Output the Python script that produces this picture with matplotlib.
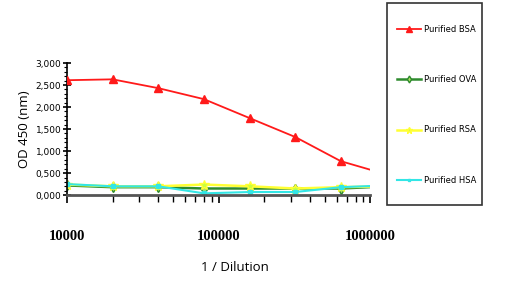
import matplotlib.pyplot as plt
import numpy as np
from matplotlib.ticker import FixedLocator, NullFormatter
from matplotlib.patches import Rectangle

# dilution factors (1 / dilution)
dilution = [10000, 20000, 40000, 80000, 160000, 320000, 640000, 1280000]
bsa = [2.61, 2.63, 2.43, 2.18, 1.75, 1.32, 0.77, 0.47]
ova = [0.22, 0.18, 0.18, 0.15, 0.15, 0.15, 0.15, 0.20]
rsa = [0.24, 0.20, 0.20, 0.24, 0.20, 0.15, 0.18, 0.20]
hsa = [0.25, 0.20, 0.20, 0.04, 0.07, 0.07, 0.18, 0.22]

y_ticks = [0, 0.5, 1.0, 1.5, 2.0, 2.5, 3.0]
y_labels = ["0,000", "0,500", "1,000", "1,500", "2,000", "2,500", "3,000"]
x_ticks = [10000, 100000, 1000000]
x_labels = ["10000", "100000", "1000000"]

fig = plt.figure(figsize=(5.23, 2.84), dpi=100)
ax = fig.add_axes([0.128, 0.313, 0.58, 0.465])

ax.plot(dilution, bsa, color="#ff1a1a", lw=1.3, marker="^", ms=6, label="Purified BSA", zorder=5)
ax.plot(dilution, ova, color="#2e8b2e", lw=1.8, marker="d", ms=5, mfc="#b0e060", label="Purified OVA")
ax.plot(dilution, rsa, color="#ffff33", lw=1.8, marker="*", ms=7, mfc="#c8ff40", label="Purified RSA")
ax.plot(dilution, hsa, color="#33e6e6", lw=1.5, marker="s", ms=3, label="Purified HSA")

ax.set_xscale("log")
ax.set_xlim(10000, 1000000)
ax.set_ylim(0, 3.0)

ax.spines["top"].set_visible(False)
ax.spines["right"].set_visible(False)
ax.spines["bottom"].set_color("#555555")
ax.spines["bottom"].set_linewidth(2)
ax.spines["left"].set_linewidth(1.2)

ax.set_yticks(y_ticks)
ax.set_yticklabels(y_labels, fontsize=6.5)
ax.yaxis.set_minor_locator(FixedLocator(np.arange(0, 3.0, 0.1)))
ax.tick_params(axis="y", which="major", direction="inout", length=6, width=1.2, pad=1)
ax.tick_params(axis="y", which="minor", direction="out", length=2.5, width=0.8)

ax.xaxis.set_major_locator(FixedLocator(x_ticks))
ax.set_xticklabels(x_labels, family="Liberation Serif", fontweight="bold", fontsize=10.5)
ax.xaxis.set_minor_formatter(NullFormatter())
ax.tick_params(axis="x", which="major", direction="out", length=6, width=1.2, pad=19)
ax.tick_params(axis="x", which="minor", direction="out", length=5, width=1)

ax.set_ylabel("OD 450 (nm)", family="Open Sans", fontsize=9.5, labelpad=3)
fig.text(0.45, 0.045, "1 / Dilution", family="Open Sans", fontsize=9.5, ha="center")

# legend box drawn separately, entries placed inside
fig.patches.append(Rectangle((387 / 523, 1 - 205 / 284), 95 / 523, 202 / 284,
                             transform=fig.transFigure, fill=False,
                             edgecolor="#333333", lw=1.2))
fig.legend(loc="upper left", bbox_to_anchor=(397 / 523, 1 - 25 / 284), frameon=False,
           fontsize=6, labelspacing=4.95, handlelength=2.9, handletextpad=0.35,
           borderpad=0, borderaxespad=0, markerscale=0.7)

fig.savefig("out.png", dpi=100)
